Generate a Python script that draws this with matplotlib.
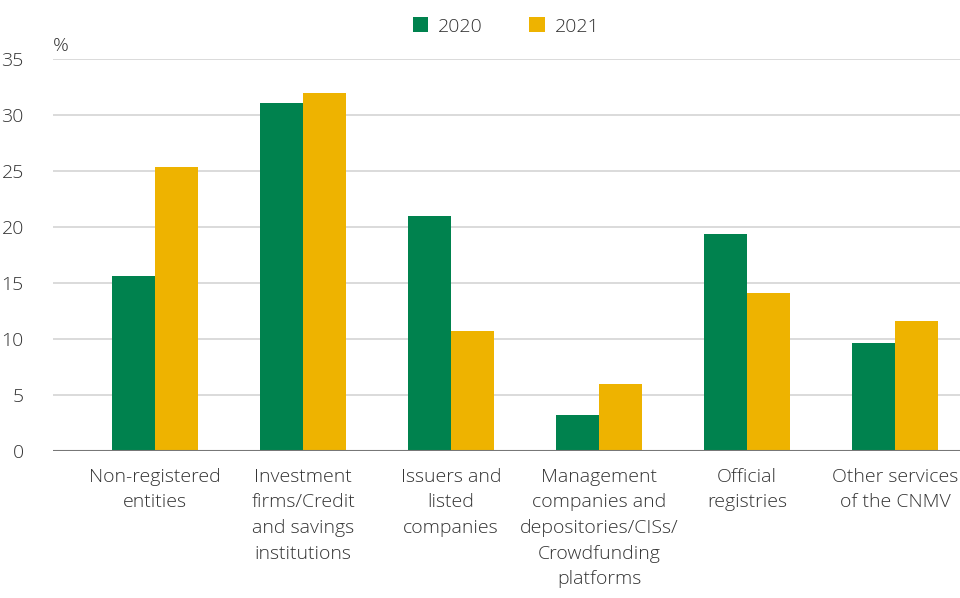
import numpy as np
import matplotlib.pyplot as plt

categories = [
    "Non-registered\nentities",
    "Investment\nfirms/Credit\nand savings\ninstitutions",
    "Issuers and\nlisted\ncompanies",
    "Management\ncompanies and\ndepositories/CISs/\nCrowdfunding\nplatforms",
    "Official\nregistries",
    "Other services\nof the CNMV",
]
values_2020 = [15.6, 31.1, 21.0, 3.2, 19.4, 9.6]
values_2021 = [25.4, 32.0, 10.7, 6.0, 14.1, 11.6]
yticks = [0, 5, 10, 15, 20, 25, 30, 35]

GREEN = "#00824E"
YELLOW = "#EEB300"
TEXT = "#333333"

plt.rcParams["font.family"] = ["Open Sans", "DejaVu Sans"]
plt.rcParams["font.weight"] = "light"

fig = plt.figure(figsize=(9.6, 5.98), dpi=100)
ax = fig.add_axes([53 / 960, 1 - 451 / 598, 1 - 53 / 960, (451 - 59) / 598])

x = np.arange(len(categories))
w = 0.29
ax.bar(x - w / 2, values_2020, w, color=GREEN, label="2020", zorder=3)
ax.bar(x + w / 2, values_2021, w, color=YELLOW, label="2021", zorder=3)

ax.set_ylim(0, 35)
ax.set_xlim(-0.69, 5.44)
ax.set_yticks(yticks)
ax.yaxis.grid(True, color="#d4d4d4", linewidth=1.2, zorder=0)
ax.set_axisbelow(True)
ax.axhline(0, color="#777777", linewidth=1.5, zorder=4)

for s in ax.spines.values():
    s.set_visible(False)

ax.set_xticks(x)
ax.set_xticklabels(categories, linespacing=1.55)
ax.tick_params(axis="both", length=0, labelsize=14, colors=TEXT)
ax.tick_params(axis="x", pad=12)
ax.tick_params(axis="y", pad=21)

ax.text(0, 1.01, "%", transform=ax.transAxes, fontsize=14, color=TEXT,
        ha="left", va="bottom")

fig.legend(loc="upper center", bbox_to_anchor=(0.527, 1.0), ncol=2, frameon=False,
           fontsize=14, handlelength=0.8, handleheight=0.8, columnspacing=2.4,
           handletextpad=0.5, labelcolor=TEXT)

fig.savefig("out.png", dpi=100, facecolor="white")
